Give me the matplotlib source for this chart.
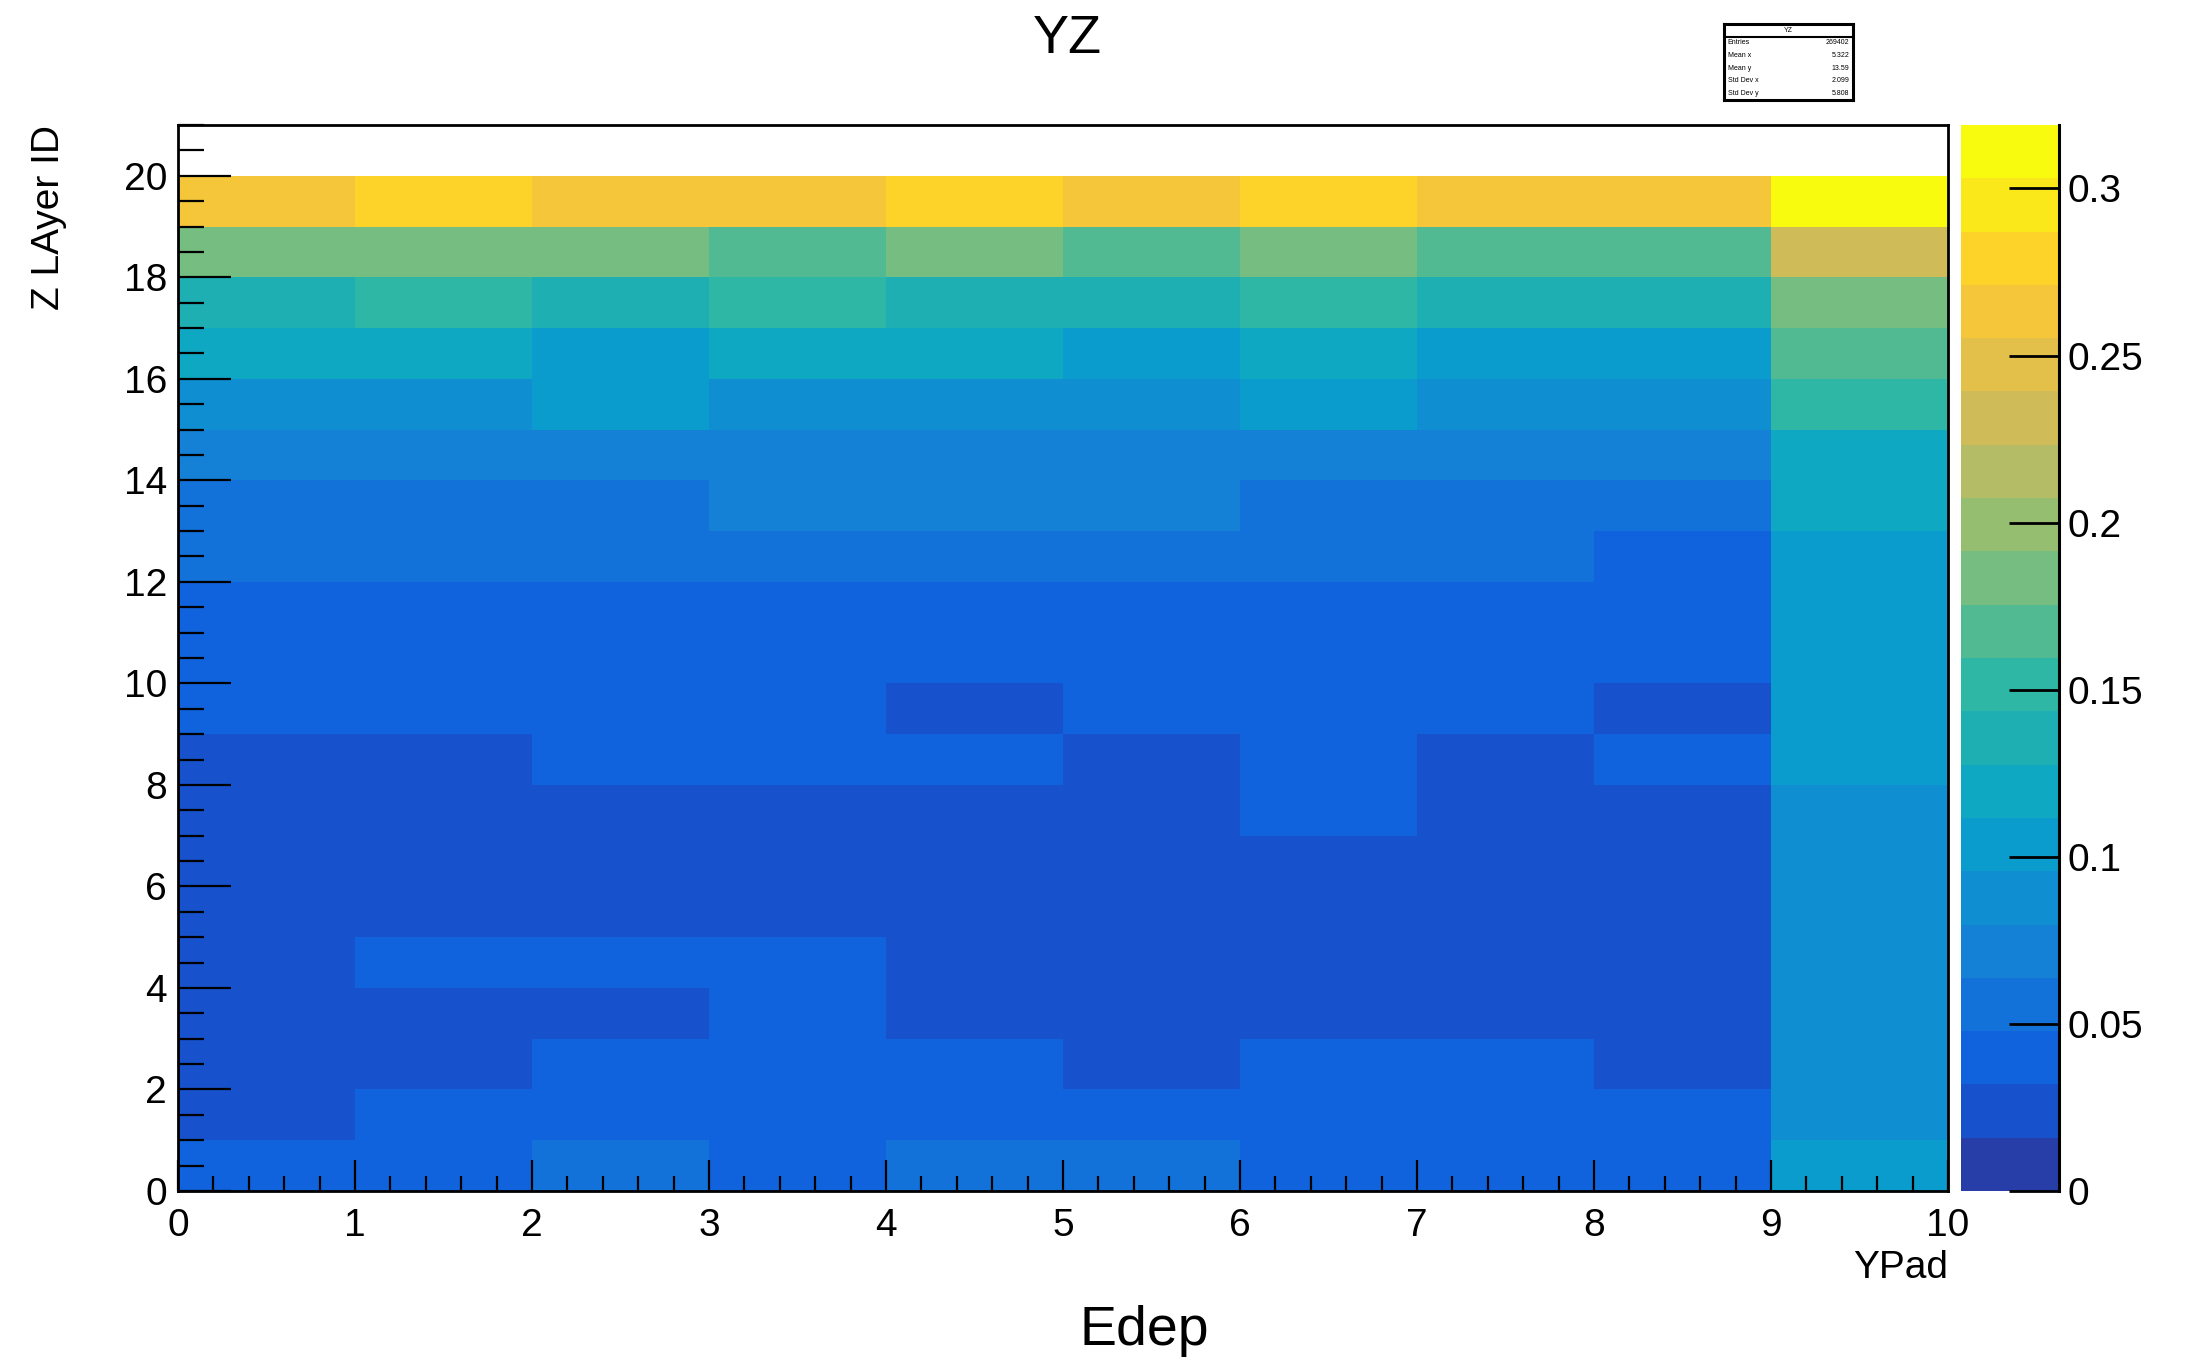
import matplotlib as mpl
mpl.use('Agg')
import matplotlib.pyplot as plt
import numpy as np
from matplotlib.colors import LinearSegmentedColormap, ListedColormap, BoundaryNorm

plt.rcParams['font.family'] = ['Liberation Sans', 'DejaVu Sans']

# bin edges
ypad_edges = [0, 1, 2, 3, 4, 5, 6, 7, 8, 9, 10]
layer_edges = [0, 1, 2, 3, 4, 5, 6, 7, 8, 9, 10, 11, 12, 13, 14, 15, 16, 17, 18, 19, 20]

# bin contents, one row per Z layer (layer 0 first), columns are YPad 0..9
edep = [
    [0.043, 0.044, 0.050, 0.042, 0.051, 0.050, 0.044, 0.041, 0.043, 0.105],  # 0
    [0.030, 0.039, 0.040, 0.041, 0.038, 0.039, 0.040, 0.038, 0.041, 0.090],  # 1
    [0.029, 0.030, 0.036, 0.037, 0.035, 0.030, 0.036, 0.037, 0.029, 0.089],  # 2
    [0.028, 0.030, 0.031, 0.034, 0.029, 0.028, 0.027, 0.029, 0.028, 0.088],  # 3
    [0.030, 0.033, 0.034, 0.033, 0.030, 0.029, 0.028, 0.030, 0.029, 0.088],  # 4
    [0.027, 0.028, 0.029, 0.028, 0.027, 0.026, 0.028, 0.027, 0.026, 0.087],  # 5
    [0.026, 0.027, 0.028, 0.027, 0.028, 0.027, 0.029, 0.026, 0.027, 0.088],  # 6
    [0.028, 0.029, 0.030, 0.029, 0.028, 0.029, 0.034, 0.028, 0.029, 0.090],  # 7
    [0.030, 0.031, 0.035, 0.036, 0.035, 0.030, 0.036, 0.031, 0.034, 0.100],  # 8
    [0.036, 0.037, 0.038, 0.037, 0.031, 0.036, 0.037, 0.038, 0.031, 0.101],  # 9
    [0.038, 0.039, 0.040, 0.039, 0.038, 0.039, 0.040, 0.039, 0.038, 0.102],  # 10
    [0.041, 0.042, 0.043, 0.042, 0.041, 0.042, 0.043, 0.042, 0.041, 0.104],  # 11
    [0.053, 0.054, 0.055, 0.054, 0.053, 0.054, 0.055, 0.052, 0.046, 0.106],  # 12
    [0.058, 0.059, 0.060, 0.066, 0.067, 0.066, 0.060, 0.059, 0.058, 0.118],  # 13
    [0.072, 0.073, 0.072, 0.074, 0.073, 0.072, 0.073, 0.072, 0.071, 0.121],  # 14
    [0.088, 0.089, 0.100, 0.088, 0.087, 0.088, 0.101, 0.089, 0.088, 0.152],  # 15
    [0.118, 0.119, 0.106, 0.120, 0.117, 0.105, 0.119, 0.106, 0.107, 0.168],  # 16
    [0.136, 0.150, 0.137, 0.151, 0.136, 0.137, 0.150, 0.136, 0.137, 0.184],  # 17
    [0.183, 0.182, 0.184, 0.168, 0.182, 0.167, 0.183, 0.168, 0.167, 0.231],  # 18
    [0.263, 0.279, 0.264, 0.263, 0.280, 0.262, 0.278, 0.263, 0.264, 0.319],  # 19
]

zmax = 0.319
cbar_ticks = [0, 0.05, 0.1, 0.15, 0.2, 0.25, 0.3]
cbar_labels = ['0', '0.05', '0.1', '0.15', '0.2', '0.25', '0.3']

stat_names = ['Entries', 'Mean x', 'Mean y', 'Std Dev x', 'Std Dev y']
stat_values = ['269402', '5.322', '13.59', '2.099', '5.808']

# ROOT kBird palette, 20 contour levels
stops = [0.0, 0.125, 0.25, 0.375, 0.5, 0.625, 0.75, 0.875, 1.0]
red = [0.2082, 0.0592, 0.0780, 0.0232, 0.1802, 0.5301, 0.8186, 0.9956, 0.9764]
green = [0.1664, 0.3599, 0.5041, 0.6419, 0.7178, 0.7492, 0.7328, 0.7862, 0.9832]
blue = [0.5293, 0.8684, 0.8385, 0.7914, 0.6425, 0.4662, 0.3499, 0.1968, 0.0539]
bird = LinearSegmentedColormap.from_list(
    'bird', [(s, (r, g, b)) for s, r, g, b in zip(stops, red, green, blue)])
ncont = 20
cmap = ListedColormap([bird((i + 0.99) / ncont) for i in range(ncont)])
levels = np.linspace(0, zmax, ncont + 1)
norm = BoundaryNorm(levels, ncont)

W, H = 2201, 1365
fig = plt.figure(figsize=(W / 100, H / 100), dpi=100)

ax = fig.add_axes([178 / W, 1 - 1191 / H, (1948 - 178) / W, (1191 - 125) / H])
mesh = ax.pcolormesh(ypad_edges, layer_edges, np.array(edep), cmap=cmap, norm=norm)
ax.set_xlim(0, 10)
ax.set_ylim(0, 21)
ax.set_xticks(range(0, 11))
ax.set_xticks(np.arange(0, 10.01, 0.2), minor=True)
ax.set_yticks(range(0, 21, 2))
ax.set_yticks(np.arange(0, 21.01, 0.5), minor=True)
for s in ax.spines.values():
    s.set_linewidth(2)
ax.tick_params(axis='x', which='major', direction='in', length=22, width=1.6, labelsize=28, pad=12)
ax.tick_params(axis='x', which='minor', direction='in', length=11, width=1.6)
ax.tick_params(axis='y', which='major', direction='in', length=38, width=1.6, labelsize=28, pad=8)
ax.tick_params(axis='y', which='minor', direction='in', length=19, width=1.6)
ax.set_title('YZ', fontsize=39, pad=0, y=1.0)
ax.title.set_position((0.5, 1.0))
fig.text(0.4848, 1 - 39 / H, 'YZ', fontsize=39, ha='center', va='center')
ax.set_title('')

# colour palette on the right
cax = fig.add_axes([1961 / W, 1 - 1191 / H, 98 / W, (1191 - 125) / H])
cbar = fig.colorbar(mesh, cax=cax, ticks=cbar_ticks)
cbar.outline.set_visible(False)
cax.axvline(1, color='black', lw=2.2, clip_on=False)
cbar.set_ticklabels(cbar_labels)
cax.tick_params(axis='y', direction='in', length=36, width=2, labelsize=28, pad=6)
cax.minorticks_off()

# axis titles
fig.text(1948 / W, 1 - 1268 / H, 'YPad', fontsize=28, ha='right', va='center')
fig.text(49 / W, 1 - 125 / H, 'Z LAyer ID', fontsize=28, rotation=90, ha='center', va='top')
fig.text(1144 / W, 1 - 1331 / H, 'Edep', fontsize=40, ha='center', va='center')

# statistics box
sx0, sx1 = 1724 / W, 1853 / W
sy0, sy1 = 1 - 100 / H, 1 - 24 / H
sax = fig.add_axes([sx0, sy0, sx1 - sx0, sy1 - sy0])
sax.set_xticks([])
sax.set_yticks([])
sax.set_xlim(0, 1)
sax.set_ylim(0, 6)
for s in sax.spines.values():
    s.set_linewidth(2.2)
sax.axhline(5, color='black', lw=1.5)
sax.text(0.5, 5.5, 'YZ', fontsize=5, ha='center', va='center')
for i, (name, val) in enumerate(zip(stat_names, stat_values)):
    yy = 4.5 - i
    sax.text(0.03, yy, name, fontsize=5, ha='left', va='center')
    sax.text(0.97, yy, val, fontsize=5, ha='right', va='center')

fig.savefig('out.png', dpi=100)
